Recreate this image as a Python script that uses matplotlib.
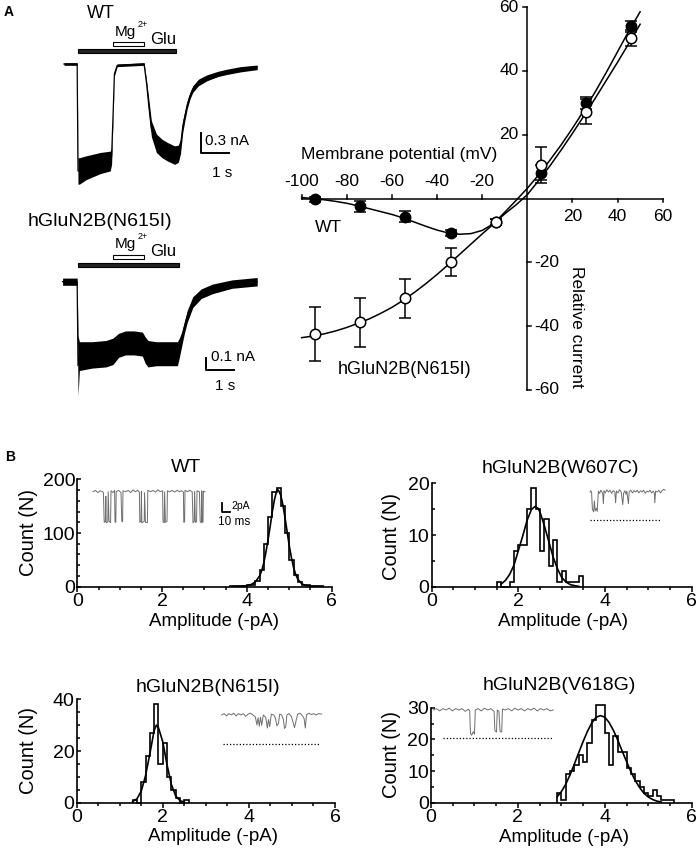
import numpy as np
import matplotlib
matplotlib.use('Agg')
import matplotlib.pyplot as plt
from matplotlib.patches import Rectangle
from matplotlib.ticker import MultipleLocator

plt.rcParams['font.family'] = ['Liberation Sans', 'DejaVu Sans']

# ---- panel A, whole-cell traces (t in s, current in nA, noise = half band width)
glu_wt = [0.0, 3.5]
mg_wt = [1.24, 2.36]
wt_t = [-0.5, -0.03, 0.0, 0.05, 0.3, 0.8, 1.15, 1.2, 1.25, 1.3, 1.4, 2.36, 2.45, 2.52, 2.62,
        2.8, 3.0, 3.2, 3.45, 3.58, 3.66, 3.74, 3.82, 3.9, 4.0, 4.1, 4.3, 4.6, 5.0, 5.3, 5.8, 6.4]
wt_i = [0, 0, -1.62, -1.62, -1.57, -1.5, -1.47, -1.4, -0.8, -0.15, -0.02, 0, -0.3, -0.6, -0.98,
        -1.2, -1.28, -1.33, -1.38, -1.36, -1.25, -0.95, -0.78, -0.62, -0.48, -0.38, -0.28, -0.21,
        -0.15, -0.12, -0.08, -0.05]
wt_noise = [0.02, 0.02, 0.2, 0.2, 0.18, 0.16, 0.15, 0.12, 0.05, 0.03, 0.02, 0.02, 0.05, 0.1, 0.12,
            0.14, 0.14, 0.14, 0.14, 0.13, 0.11, 0.09, 0.07, 0.06, 0.05, 0.05, 0.05, 0.045, 0.04,
            0.04, 0.04, 0.035]

glu_mut = [0.0, 3.6]
mg_mut = [1.24, 2.36]
mut_t = [-0.55, -0.03, 0.0, 0.05, 0.5, 1.0, 1.25, 1.45, 1.7, 2.0, 2.3, 2.4, 2.5, 2.8, 3.2, 3.55,
         3.62, 3.7, 3.8, 3.9, 4.1, 4.4, 4.8, 5.5, 6.4]
mut_i = [0, 0, -0.7, -0.62, -0.61, -0.6, -0.58, -0.53, -0.51, -0.51, -0.52, -0.57, -0.6, -0.6,
         -0.6, -0.6, -0.55, -0.48, -0.38, -0.29, -0.17, -0.1, -0.06, -0.02, 0.0]
mut_noise = [0.03, 0.03, 0.25, 0.12, 0.11, 0.11, 0.11, 0.1, 0.1, 0.1, 0.1, 0.11, 0.11, 0.1, 0.1,
             0.1, 0.08, 0.06, 0.05, 0.05, 0.045, 0.04, 0.04, 0.035, 0.035]

# ---- panel A, I-V relation
iv_mv = [-94, -74, -54, -34, -14, 6, 26, 46]
wt_iv = [-0.2, -2.5, -5.7, -10.9, -7.3, 8.1, 29.9, 53.9]
wt_err = [0.8, 1.8, 1.8, 1.0, 1.0, 2.3, 1.8, 1.6]
mut_iv = [-42.5, -38.8, -31.3, -20.0, -7.3, 10.6, 27.2, 50.4]
mut_err = [8.5, 7.7, 6.0, 4.4, 1.0, 5.6, 3.9, 2.5]

fit_mv = [-100, -95, -90, -85, -80, -75, -70, -65, -60, -55, -50, -45, -40, -35, -30, -25,
          -20, -15, -10, -5, 0, 5, 10, 15, 20, 25, 30, 35, 40, 45, 50]
wt_fit = [0.3, 0.0, -0.4, -0.9, -1.5, -2.3, -3.2, -4.1, -5.0, -6.1, -7.4, -8.7, -9.9, -10.8,
          -11.2, -11.0, -10.0, -7.9, -4.3, -0.6, 3.2, 7.4, 12.0, 16.8, 22.0, 27.5, 33.3, 39.5,
          46.0, 52.5, 58.5]
mut_fit = [-43.6, -43.1, -42.4, -41.5, -40.4, -39.1, -37.7, -36.0, -34.1, -31.9, -29.4, -26.7,
           -23.8, -20.7, -17.5, -14.3, -11.1, -8.0, -4.8, -2.0, 1.2, 5.6, 10.2, 15.2, 20.4, 25.8,
           31.3, 37.0, 42.7, 48.6, 54.6]

# ---- panel B, amplitude histograms (bin width 0.1 pA)
bin_w = 0.1
wt_lo = 3.6
wt_counts = [1, 1, 2, 2, 3, 4, 10, 31, 80, 130, 176, 183, 150, 100, 50, 22, 8, 4, 3, 2, 1, 1]
wt_fx = [3.6, 3.8, 4.0, 4.1, 4.2, 4.3, 4.35, 4.4, 4.45, 4.5, 4.55, 4.6, 4.65, 4.7, 4.72, 4.75,
         4.8, 4.85, 4.9, 4.95, 5.0, 5.05, 5.1, 5.15, 5.2, 5.3, 5.4, 5.6, 5.8]
wt_fy = [0, 0.5, 2, 4, 9, 20, 30, 45, 65, 88, 113, 140, 162, 178, 181, 179, 170, 152, 128, 102,
         76, 54, 36, 23, 14, 5, 2, 0.5, 0]

w607_lo = 1.5
w607_counts = [1, 0, 0, 1, 7, 8, 8, 15, 19, 15, 7, 13, 4, 9, 1, 3, 1, 1, 1, 2]
w607_fx = [1.6, 1.7, 1.8, 1.9, 2.0, 2.1, 2.2, 2.3, 2.38, 2.45, 2.5, 2.6, 2.7, 2.8, 2.9, 3.0,
           3.1, 3.2, 3.3, 3.4]
w607_fy = [0.5, 1.2, 2.4, 4.2, 7.0, 9.8, 12.8, 14.9, 15.5, 15.2, 14.4, 11.8, 8.8, 5.8, 3.5, 1.8,
           0.9, 0.4, 0.2, 0.05]

n615_lo = 1.3
n615_counts = [1, 0, 8, 18, 27, 38, 15, 23, 10, 5, 2, 0, 1]
n615_fx = [1.3, 1.4, 1.5, 1.6, 1.7, 1.8, 1.85, 1.9, 2.0, 2.1, 2.2, 2.3, 2.4, 2.5]
n615_fy = [0.5, 1.5, 4.5, 10.5, 19, 28, 30, 29, 23.5, 14.5, 7, 2.6, 0.8, 0.2]

v618_lo = 2.9
v618_counts = [3, 1, 9, 10, 12, 15, 13, 19, 26, 31, 31, 22, 12, 21, 16, 16, 11, 9, 7, 5, 3, 2,
               4, 2, 1, 1, 1]
v618_fx = [2.9, 3.0, 3.1, 3.2, 3.3, 3.4, 3.5, 3.6, 3.7, 3.8, 3.9, 4.0, 4.1, 4.2, 4.3, 4.4, 4.5,
           4.6, 4.7, 4.8, 4.9, 5.0, 5.1, 5.2, 5.3]
v618_fy = [1.8, 3.5, 5.8, 8.8, 12.2, 15.8, 19.3, 22.5, 25.2, 27.0, 27.5, 27.0, 25.3, 22.8, 19.7,
           16.3, 13.0, 9.8, 7.0, 4.8, 3.0, 1.8, 1.0, 0.5, 0.2]

# ---- single channel insets (t in ms, current in pA)
ins_wt_t = [0, 3, 6, 9, 12, 13, 14, 15.5, 16, 16.5, 18.5, 19, 20, 22, 22.5, 25, 27, 27.5, 28.5,
            29, 32, 35, 36, 37, 37.5, 41, 44, 47, 50, 53, 56, 58, 58.5, 60, 60.5, 61, 64, 64.5,
            65.5, 68, 68.5, 72, 75, 78, 81, 84, 87, 87.5, 89, 89.5, 90.5, 92.5, 93, 96, 99, 102,
            105, 108, 111, 113, 113.5, 114.5, 115, 118, 121, 124, 125, 126.5, 127, 128, 129.5,
            130, 133, 134, 135.5, 136, 136.5, 137.5, 138, 140]
ins_wt_i = [0, 0.3, -0.2, 0.2, 0, -0.2, -6.8, -6.6, -1, -6.9, -6.7, 0, -6.5, -6.9, 0.2, -0.2,
            0.3, -6.7, -6.8, 0, 0.3, -0.2, -6.5, -6.7, 0.2, 0, 0.3, -0.2, 0.4, 0, 0.3, -0.1, -6.8,
            -6.6, 0.1, -6.9, -6.6, -0.2, -6.8, -6.9, 0.3, 0, 0.3, -0.1, 0.4, 0, 0.2, -6.7, -6.9,
            0, -6.8, -6.6, 0.2, 0, 0.3, -0.1, 0.3, 0, 0.2, -0.1, -6.8, -6.7, 0.3, 0, 0.3, 0, -6.9,
            -6.6, 0.1, -6.8, -6.7, 0.2, 0, -6.7, -6.9, 0.2, -6.6, -6.8, 0.1, 0]

ins_w607_t = [0, 1, 2, 3, 4.5, 5.5, 6.5, 8, 9, 10.5, 12, 13.5, 15, 16, 16.7, 17.5, 19, 21, 23, 25,
              27, 29, 31, 32, 33, 35, 37, 39, 41, 42, 43.5, 45, 46, 48, 49, 51, 53, 55, 57, 59,
              61, 63, 65, 67, 69, 71, 73, 75, 77, 79, 80.5, 81, 82, 84, 86, 88, 90, 92, 94]
ins_w607_i = [0, 0.3, -0.2, -3.8, -4.4, -2, -4.2, -3.6, -4.3, 0.2, -0.3, 0.4, 0, -0.5, -2.6, 0.3,
              -0.2, 0.5, 0, 0.4, -0.3, 0.3, 0, -2.4, 0.2, -0.2, 0.5, 0, -2.8, -0.3, 0.3, -0.5, 0.2,
              -2.6, 0.1, 0.4, -0.2, 0.3, 0, 0.4, -0.2, 0.3, 0, 0.4, -0.3, 0.2, 0, 0.4, -0.2, 0.2,
              -0.3, -2.4, 0.2, 0, 0.4, -0.2, 0.3, 0.6, 0.4]

ins_n615_t = [0, 3, 6, 9, 12, 15, 18, 21, 24, 27, 30, 33, 36, 39, 42, 44, 45.5, 47, 48.5, 50, 52,
              55, 57, 58.5, 60, 62, 65, 67, 69, 71, 72.5, 75, 77, 78.5, 80, 81.5, 84, 87, 89, 91,
              93, 95, 98, 101, 103, 104.5, 106, 109, 112, 115, 118, 121, 125]
ins_n615_i = [0, 0.3, -0.2, 0.3, 0, 0.4, -0.2, 0.3, 0, 0.3, -0.3, 0.2, 0.4, 0, -0.4, -2.2, -0.6,
              -2.5, -0.5, -2.3, 0, -0.5, -2.9, -1, -2.6, 0.2, 0, -0.6, -2.4, -1.8, 0.2, 0, -1, -3,
              -2.6, 0, 0.3, -0.3, -1.5, -2.8, -1.2, 0.2, 0.4, -0.2, -0.8, -2.9, 0, 0.4, 0.1, 0.3, 0,
              0.3, 0.2]

ins_v618_t = [0, 4, 8, 12, 16, 20, 24, 28, 32, 36, 40, 44, 45.5, 46.5, 48, 50, 51.5, 52.5, 56, 60,
              64, 68, 72, 76, 77, 79, 80, 82, 83.5, 85.5, 86.5, 90, 94, 98, 102, 106, 110, 114,
              118, 122, 126, 130, 134, 138, 142, 146, 150]
ins_v618_i = [0, 0.3, -0.2, 0.3, 0, 0.4, -0.2, 0.3, 0, 0.3, -0.3, 0.2, -0.2, -5.2, -5.6, -4.8,
              -5.4, 0, 0.3, -0.2, 0.4, 0, 0.3, -0.3, -4.6, -4.9, 0, -0.3, -4.8, -4.9, 0.2, 0, 0.3,
              -0.2, 0.4, 0, 0.3, -0.2, 0.3, 0, 0.4, -0.2, 0.3, 0, 0.3, -0.2, 0]

W, H = 700, 851
fig = plt.figure(figsize=(7, 8.51), dpi=100)


def px_axes(l, t, r, b):
    return fig.add_axes([l / W, 1 - b / H, (r - l) / W, (b - t) / H])


def ftext(x, y, s, **kw):
    kw.setdefault('ha', 'center')
    kw.setdefault('va', 'center')
    fig.text(x / W, 1 - y / H, s, **kw)


def draw_trace(rect, ylim, t, cur, noise, glu, mg, y_glu, y_mg, bar_h, sb_t, sb_i, sb_amp):
    ax = px_axes(*rect)
    lo = np.array(cur) - np.array(noise)
    hi = np.array(cur) + np.array(noise)
    ax.fill_between(t, lo, hi, color='k', lw=0)
    ax.plot(t, cur, color='k', lw=0.9)
    ax.add_patch(Rectangle((glu[0], y_glu - bar_h / 2), glu[1] - glu[0], bar_h,
                           fc='#222222', ec='k', lw=0.8, clip_on=False))
    ax.add_patch(Rectangle((mg[0], y_mg - bar_h / 2), mg[1] - mg[0], bar_h,
                           fc='white', ec='k', lw=0.8, clip_on=False))
    ax.plot([sb_t, sb_t, sb_t + 1], [sb_i + sb_amp, sb_i, sb_i], color='k', lw=1.4)
    ax.set_xlim(-0.607, 6.571)
    ax.set_ylim(*ylim)
    ax.axis('off')


draw_trace((61, 25, 262, 185), (-1.833, 0.591), wt_t, wt_i, wt_noise, glu_wt, mg_wt,
           0.19, 0.30, 0.06, 4.39, -1.344, 0.3)
draw_trace((61, 255, 262, 395), (-0.944, 0.2225), mut_t, mut_i, mut_noise, glu_mut, mg_mut,
           0.139, 0.206, 0.033, 4.57, -0.736, 0.1)

ftext(9, 12, 'A', fontsize=10, fontweight='bold')
ftext(101, 13, 'WT', fontsize=13)
ftext(115, 32, 'Mg', ha='left', fontsize=11)
ftext(137.5, 24.5, '2+', ha='left', fontsize=6.5)
ftext(150, 39, 'Glu', ha='left', fontsize=12)
ftext(205, 141, '0.3 nA', ha='left', fontsize=11)
ftext(222, 173, '1 s', fontsize=11)
ftext(100, 221, 'hGluN2B(N615I)', fontsize=14)
ftext(115, 244, 'Mg', ha='left', fontsize=11)
ftext(137.5, 236.5, '2+', ha='left', fontsize=6.5)
ftext(150, 252, 'Glu', ha='left', fontsize=12)
ftext(211, 357, '0.1 nA', ha='left', fontsize=11)
ftext(225, 386, '1 s', fontsize=11)

# ---- I-V plot with axes crossing at the origin
ax = px_axes(301.7, 7, 662.7, 390)
ax.set_xlim(-100, 60)
ax.set_ylim(-60, 60)
ax.axis('off')
ax.plot([-100, 60], [0, 0], color='k', lw=1.1, clip_on=False)
ax.plot([0, 0], [-60, 60], color='k', lw=1.1, clip_on=False)
tk_y = 1.25
tk_x = 1.8
for v in [-100, -80, -60, -40, -20, 20, 40, 60]:
    up = v < 0
    ax.plot([v, v], [0, tk_y if up else -tk_y], color='k', lw=1.1, clip_on=False)
    ax.annotate(str(v), (v, 0), xytext=(0, 12.1 if up else -13.1), textcoords='offset points',
                ha='center', va='center', fontsize=12.5)
for v in [20, 40, 60, -20, -40, -60]:
    pos = v > 0
    ax.plot([0, -tk_x if pos else tk_x], [v, v], color='k', lw=1.1, clip_on=False)
    ax.annotate(str(v), (0, v), xytext=(-6.3 if pos else 4.8, 0), textcoords='offset points',
                ha='right' if pos else 'left', va='center', fontsize=12.5)
ax.plot(fit_mv, wt_fit, color='k', lw=1.1, clip_on=False)
ax.plot(fit_mv, mut_fit, color='k', lw=1.1, clip_on=False)
ax.errorbar(iv_mv, wt_iv, yerr=wt_err, fmt='o', color='k', mfc='k', mec='k', ms=7.5,
            capsize=4, elinewidth=1.1, capthick=1.1, clip_on=False, zorder=3)
ax.errorbar(iv_mv, mut_iv, yerr=mut_err, fmt='o', color='k', mfc='white', mec='k', ms=7.5,
            mew=1.1, capsize=4, elinewidth=1.1, capthick=1.1, clip_on=False, zorder=4)

ftext(399, 155, 'Membrane potential (mV)', fontsize=12.5)
ftext(576.7, 327, 'Relative current', rotation=-90, fontsize=12.5)
ftext(328, 228, 'WT', fontsize=12.5)
ftext(405, 369, 'hGluN2B(N615I)', fontsize=13)


# ---- panel B
def draw_hist(rect, lo, counts, fx, fy, ymax, ymajor, yminor):
    ax = px_axes(*rect)
    edges = np.round(lo + bin_w * np.arange(len(counts) + 1), 3)
    ax.stairs(counts, edges, color='k', lw=1.2, clip_on=False)
    ax.plot(fx, fy, color='k', lw=1.2)
    ax.set_xlim(0, 6)
    ax.set_ylim(0, ymax)
    for s in ['top', 'right']:
        ax.spines[s].set_visible(False)
    for s in ['left', 'bottom']:
        ax.spines[s].set_linewidth(1.2)
    ax.xaxis.set_major_locator(MultipleLocator(2))
    ax.xaxis.set_minor_locator(MultipleLocator(0.5))
    ax.yaxis.set_major_locator(MultipleLocator(ymajor))
    ax.yaxis.set_minor_locator(MultipleLocator(yminor))
    ax.tick_params(axis='x', which='both', direction='out', labelsize=14, pad=1, width=1.1)
    ax.tick_params(axis='x', which='major', length=3.6)
    ax.tick_params(axis='x', which='minor', length=2.4)
    ax.tick_params(axis='y', which='both', direction='in', labelsize=14, pad=1.5, width=1.1)
    ax.tick_params(axis='y', which='major', length=3.2)
    ax.tick_params(axis='y', which='minor', length=2.4)
    return ax


draw_hist((77.3, 479.3, 331.7, 586.7), wt_lo, wt_counts, wt_fx, wt_fy, 200, 100, 20)
draw_hist((431.7, 483.3, 691.7, 586.7), w607_lo, w607_counts, w607_fx, w607_fy, 20, 10, 5)
draw_hist((76.7, 699.3, 335, 802.7), n615_lo, n615_counts, n615_fx, n615_fy, 40, 20, 5)
draw_hist((431, 707.7, 691.7, 802.7), v618_lo, v618_counts, v618_fx, v618_fy, 30, 10, 5)


def draw_inset(rect, xlim, ylim, t, cur, dot=None):
    ax = px_axes(*rect)
    ax.plot(t, cur, color='#6e6e6e', lw=0.7)
    if dot is not None:
        ax.plot(dot[0], [dot[1], dot[1]], color='k', lw=0.9, ls=(0, (1, 1.6)))
    ax.set_xlim(*xlim)
    ax.set_ylim(*ylim)
    ax.axis('off')
    return ax


ax_in = draw_inset((90, 485, 240, 530), (-3.75, 183.75), (-8.51, 1.49), ins_wt_t, ins_wt_i)
ax_in.plot([161.25, 161.25, 171.25], [-2.5, -4.5, -4.5], color='k', lw=1.3)
draw_inset((585, 485, 670, 525), (-6.25, 100), (-7.33, 1.56), ins_w607_t, ins_w607_i,
           dot=([0, 87.5], -6.22))
draw_inset((218, 705, 325, 750), (-4.6, 129.1), (-7.78, 2.22), ins_n615_t, ins_n615_i,
           dot=([2, 123], -6.44))
draw_inset((430, 700, 556, 745), (-4.1, 153.4), (-7.78, 2.22), ins_v618_t, ins_v618_i,
           dot=([11.7, 150], -6.29))

ftext(231, 506, '2pA', ha='left', fontsize=7.5)
ftext(234, 522, '10 ms', fontsize=8.5)

ftext(10, 457, 'B', fontsize=10, fontweight='bold')
ftext(186, 467, 'WT', fontsize=14)
ftext(560, 469, 'hGluN2B(W607C)', fontsize=14)
ftext(208, 687, 'hGluN2B(N615I)', fontsize=14)
ftext(559, 686, 'hGluN2B(V618G)', fontsize=14)
for x, y in [(28.5, 533), (391.7, 536), (28.3, 750), (391.7, 754)]:
    ftext(x, y, 'Count (N)', rotation=90, fontsize=14.5)
for x, y in [(214, 621.7), (563, 621.7), (213, 836.7), (564, 837)]:
    ftext(x, y, 'Amplitude (-pA)', fontsize=13.5)

fig.savefig('out.png', dpi=100)
